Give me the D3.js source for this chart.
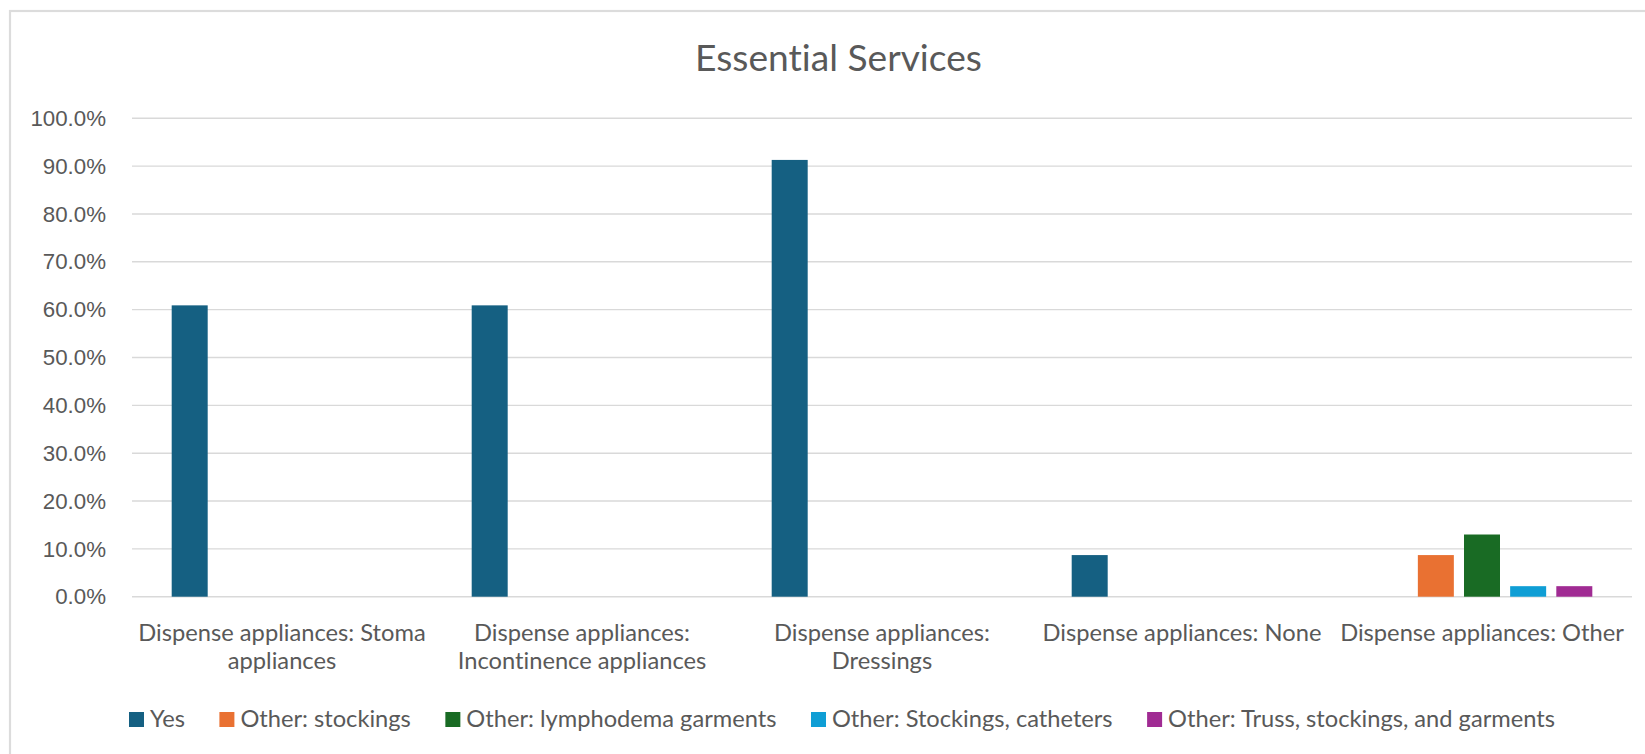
<!DOCTYPE html>
<html>
<head>
<meta charset="utf-8">
<script src="https://cdn.jsdelivr.net/npm/d3@7"></script>
<style>
  html, body { margin: 0; padding: 0; background: #fff; }
  svg { display: block; }
  text { font-variant-ligatures: none; font-feature-settings: "liga" 0, "clig" 0; }
</style>
</head>
<body>
<svg id="chart" width="1645" height="754"></svg>
<script>
// ---- data ----
const title = "Essential Services";
const categories = [
  "Dispense appliances: Stoma appliances",
  "Dispense appliances: Incontinence appliances",
  "Dispense appliances: Dressings",
  "Dispense appliances: None",
  "Dispense appliances: Other"
];
const seriesNames = [
  "Yes",
  "Other: stockings",
  "Other: lymphodema garments",
  "Other: Stockings, catheters",
  "Other: Truss, stockings, and garments"
];
const yesValues            = [60.9, 60.9, 91.3, 8.7, 0];
const stockingsValues      = [0, 0, 0, 0, 8.7];
const lymphodemaValues     = [0, 0, 0, 0, 13.0];
const stockCathValues      = [0, 0, 0, 0, 2.2];
const trussValues          = [0, 0, 0, 0, 2.2];
const yTickValues = [0, 10, 20, 30, 40, 50, 60, 70, 80, 90, 100];
const colors = ["#156082", "#E97132", "#196B24", "#0F9ED5", "#A02B93"];

const seriesValues = [yesValues, stockingsValues, lymphodemaValues, stockCathValues, trussValues];

// ---- layout ----
const svg = d3.select("#chart");
const plot = { left: 132, right: 1632, top: 118.3, bottom: 596.7 };
const textColor = "#595959";
const gridColor = "#D9D9D9";
const textFont = "Lato, 'Noto Sans', sans-serif";
const tickFont = "'Liberation Sans', Arial, sans-serif";

// outer border (extends past right/bottom like the reference)
svg.append("rect")
  .attr("x", 10).attr("y", 11)
  .attr("width", 1700).attr("height", 800)
  .attr("fill", "none")
  .attr("stroke", "#DCDCDC")
  .attr("stroke-width", 2.2);

function measure(str, size, family) {
  const t = svg.append("text").attr("font-family", family || textFont).attr("font-size", size).text(str);
  const w = t.node().getComputedTextLength();
  t.remove();
  return w;
}
function fitFontSize(str, target, family, base) {
  return base * target / measure(str, base, family);
}

// scales
const x0 = d3.scaleBand().domain(categories).range([plot.left, plot.right]).paddingInner(0).paddingOuter(0);
const x1 = d3.scaleBand().domain(seriesNames).range([0, x0.bandwidth()]).paddingInner(0.22).paddingOuter(0.86);
const y = d3.scaleLinear().domain([0, 100]).range([plot.bottom, plot.top]);

// gridlines
svg.append("g")
  .selectAll("line")
  .data(yTickValues)
  .join("line")
  .attr("x1", plot.left).attr("x2", plot.right)
  .attr("y1", d => y(d)).attr("y2", d => y(d))
  .attr("stroke", gridColor)
  .attr("stroke-width", 1.4);

// y axis labels via d3 axis
const yAxis = d3.axisLeft(y).tickValues(yTickValues).tickFormat(d => d3.format(".1f")(d) + "%").tickSize(0).tickPadding(0);
const yg = svg.append("g").attr("transform", `translate(106,0)`).call(yAxis);
yg.select(".domain").remove();
yg.selectAll("text")
  .attr("font-family", tickFont)
  .attr("font-size", 22.3)
  .attr("fill", textColor);

// bars
const groups = svg.append("g")
  .selectAll("g")
  .data(categories)
  .join("g")
  .attr("transform", d => `translate(${x0(d)},0)`);

groups.selectAll("rect")
  .data((c, ci) => seriesNames.map((s, si) => ({ s, si, v: seriesValues[si][ci] })).filter(d => d.v > 0))
  .join("rect")
  .attr("x", d => x1(d.s))
  .attr("width", x1.bandwidth())
  .attr("y", d => y(d.v))
  .attr("height", d => y(0) - y(d.v))
  .attr("fill", d => colors[d.si]);

// title
const titleSize = fitFontSize(title, 287, textFont, 34);
svg.append("text")
  .attr("x", 838.5).attr("y", 70.7)
  .attr("text-anchor", "middle")
  .attr("font-family", textFont)
  .attr("font-size", titleSize)
  .attr("fill", textColor)
  .text(title);

// category labels (wrapped)
const catSize = fitFontSize("Dispense appliances: None", 279, textFont, 22);
function wrap(str, maxW, size) {
  const words = str.split(" ");
  const lines = [];
  let cur = "";
  words.forEach(w => {
    const test = cur ? cur + " " + w : w;
    if (measure(test, size) > maxW && cur) { lines.push(cur); cur = w; }
    else cur = test;
  });
  if (cur) lines.push(cur);
  return lines;
}
const catG = svg.append("g");
categories.forEach(c => {
  const lines = wrap(c, x0.bandwidth() - 2, catSize);
  const cx = x0(c) + x0.bandwidth() / 2;
  const t = catG.append("text")
    .attr("x", cx)
    .attr("y", 641)
    .attr("text-anchor", "middle")
    .attr("font-family", textFont)
    .attr("font-size", catSize)
    .attr("fill", textColor);
  lines.forEach((l, i) => {
    t.append("tspan")
      .attr("x", cx)
      .attr("y", 641 + i * 27.8)
      .text(l);
  });
});

// legend
const legSize = fitFontSize(seriesNames[4], 387, textFont, 22);
const sw = 15, swGap = 6;
const widths = seriesNames.map(s => measure(s, legSize));
const legLeft = 129, legRight = 1555;
const itemGap = (legRight - legLeft - d3.sum(widths) - seriesNames.length * (sw + swGap)) / (seriesNames.length - 1);
let lx = legLeft;
const legG = svg.append("g");
seriesNames.forEach((s, i) => {
  legG.append("rect")
    .attr("x", lx).attr("y", 712)
    .attr("width", sw).attr("height", sw)
    .attr("fill", colors[i]);
  legG.append("text")
    .attr("x", lx + sw + swGap).attr("y", 727)
    .attr("font-family", textFont)
    .attr("font-size", legSize)
    .attr("fill", textColor)
    .text(s);
  lx += sw + swGap + widths[i] + itemGap;
});
</script>
</body>
</html>
